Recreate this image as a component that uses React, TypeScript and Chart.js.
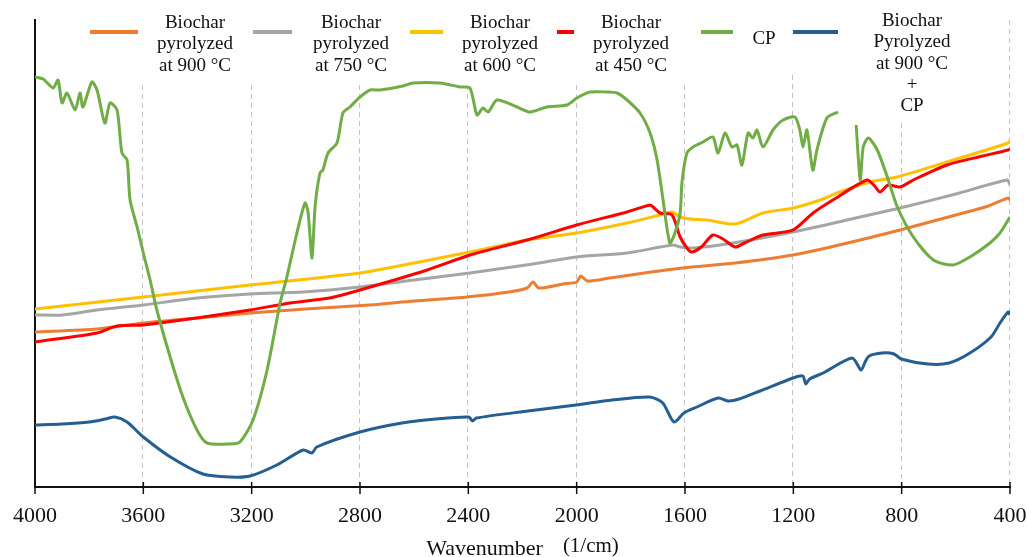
import React, { useEffect, useRef } from "react";
import { Chart, registerables } from "chart.js";

Chart.register(...registerables);

// ---------- data (transmittance, arbitrary units) ----------
const wnTicks = [4000, 3600, 3200, 2800, 2400, 2000, 1600, 1200, 800, 400];

const b900Wn = [4000, 3771, 3600, 3400, 3206, 3000, 2763, 2600, 2405, 2250, 2183, 2161, 2140, 2050, 2000, 1985, 1960, 1877, 1750, 1607, 1415, 1201, 1000, 806, 600, 480, 407, 400];
const b900T = [155, 158, 164, 169, 174, 178, 182, 186, 190, 195, 199, 205, 199, 203, 205, 211, 206, 209, 214, 219, 224, 232, 244, 257, 272, 281, 289, 287];

const b750Wn = [4000, 3897, 3771, 3600, 3402, 3206, 3010, 2800, 2600, 2394, 2161, 2000, 1814, 1644, 1618, 1570, 1423, 1201, 1002, 806, 600, 410, 400];
const b750T = [172, 172, 177, 182, 189, 193, 195, 200, 207, 214, 223, 230, 234, 242, 240, 239, 244, 255, 267, 279, 293, 307, 302];

const b600Wn = [4000, 3600, 3206, 2800, 2600, 2394, 2183, 2000, 1814, 1692, 1648, 1618, 1582, 1519, 1415, 1312, 1201, 1100, 1028, 917, 818, 633, 500, 407, 400];
const b600T = [178, 190, 202, 214, 224, 235, 247, 254, 264, 272, 275, 270, 268, 267, 263, 274, 279, 287, 295, 305, 310, 325, 336, 344, 346];

const b450Wn = [4000, 3771, 3697, 3600, 3402, 3206, 3058, 2912, 2800, 2552, 2394, 2183, 2000, 1814, 1729, 1718, 1692, 1648, 1618, 1590, 1574, 1540, 1497, 1460, 1415, 1380, 1312, 1201, 1127, 1054, 928, 900, 880, 850, 806, 757, 633, 500, 407, 400];
const b450T = [145, 154, 161, 162, 169, 177, 184, 189, 197, 217, 232, 247, 262, 275, 282, 280, 274, 272, 250, 238, 235, 240, 252, 248, 240, 244, 252, 257, 274, 287, 307, 301, 295, 302, 300, 307, 322, 331, 337, 338];

const cpWn = [4000, 3970, 3933, 3915, 3900, 3882, 3852, 3834, 3823, 3790, 3771, 3742, 3723, 3697, 3679, 3660, 3649, 3623, 3600, 3575, 3550, 3501, 3454, 3402, 3365, 3280, 3243, 3195, 3143, 3095, 3070, 3033, 3003, 2992, 2977, 2966, 2948, 2937, 2918, 2885, 2863, 2837, 2800, 2763, 2726, 2641, 2604, 2505, 2430, 2394, 2368, 2346, 2327, 2294, 2220, 2172, 2110, 2036, 1999, 1951, 1888, 1851, 1814, 1766, 1729, 1703, 1681, 1656, 1637, 1618, 1611, 1593, 1570, 1533, 1497, 1478, 1452, 1427, 1408, 1390, 1367, 1349, 1334, 1312, 1275, 1238, 1194, 1176, 1164, 1150, 1128, 1113, 1076, 1035, 1000, 968, 953, 942, 923, 890, 853, 816, 757, 683, 610, 548, 474, 437, 407, 400];
const cpT: (number | null)[] = [410, 408, 399, 407, 384, 394, 377, 394, 380, 405, 397, 364, 384, 377, 334, 327, 287, 260, 234, 207, 177, 130, 90, 57, 44, 43, 45, 67, 117, 184, 210, 254, 284, 275, 229, 280, 314, 317, 334, 344, 374, 380, 390, 397, 397, 401, 404, 404, 400, 399, 372, 379, 375, 387, 380, 375, 380, 382, 389, 395, 395, 394, 387, 374, 354, 327, 287, 244, 254, 274, 305, 334, 340, 345, 350, 334, 354, 340, 342, 322, 354, 349, 357, 340, 357, 367, 370, 357, 340, 357, 317, 337, 369, 375, null, 362, 307, 340, 349, 337, 310, 280, 250, 227, 222, 230, 244, 254, 267, 270];

const mixWn = [4000, 3900, 3800, 3740, 3705, 3660, 3600, 3500, 3380, 3280, 3206, 3107, 3010, 2977, 2960, 2800, 2645, 2520, 2398, 2385, 2370, 2180, 2002, 1870, 1730, 1682, 1641, 1604, 1556, 1478, 1440, 1400, 1323, 1201, 1165, 1154, 1140, 1090, 983, 950, 935, 920, 872, 828, 802, 703, 625, 548, 470, 437, 407, 400];
const mixT = [62, 63, 65, 68, 70, 65, 50, 30, 13, 10, 11, 22, 37, 34, 40, 55, 64, 68, 70, 66, 69, 76, 82, 87, 90, 84, 65, 74, 80, 89, 86, 88, 96, 109, 111, 103, 108, 114, 129, 117, 125, 131, 134, 133, 128, 123, 124, 134, 150, 164, 175, 172];

const seriesLabels = [
  ["Biochar", "pyrolyzed", "at 900 °C"],
  ["Biochar", "pyrolyzed", "at 750 °C"],
  ["Biochar", "pyrolyzed", "at 600 °C"],
  ["Biochar", "pyrolyzed", "at 450 °C"],
  ["CP"],
  ["Biochar", "Pyrolyzed", "at 900 °C", "+", "CP"],
];
const seriesColors = ["#ED7D31", "#A5A5A5", "#FFC000", "#FF0000", "#70AD47", "#255E91"];

const axisTitle = "Wavenumber";
const axisUnit = "(1/cm)";

// ---------- layout of the hand-drawn legend ----------
const legendLayout = [
  { s0: 90, s1: 138, tx: 195, ty: 23, clear: [85, 253, 85] },
  { s0: 253, s1: 292, tx: 351, ty: 23, clear: [253, 410, 85] },
  { s0: 410, s1: 443, tx: 500, ty: 23, clear: [410, 557, 85] },
  { s0: 557, s1: 574, tx: 631, ty: 23, clear: [557, 697, 85] },
  { s0: 701, s1: 733, tx: 764, ty: 39, clear: [697, 794, 75] },
  { s0: 793, s1: 838, tx: 912, ty: 21, clear: [794, 975, 123] },
];
const SERIF = "'Liberation Serif', 'Times New Roman', Times, serif";

const pts = (wn: number[], t: (number | null)[]) => wn.map((x, i) => ({ x, y: t[i] }));

const decorPlugin = {
  id: "decor",
  beforeDatasetsDraw(chart: any) {
    const { ctx, chartArea, scales } = chart;
    const xs = scales.x;
    ctx.save();
    ctx.strokeStyle = "#c4c4c4";
    ctx.lineWidth = 1;
    ctx.setLineDash([5, 4]);
    wnTicks.forEach((v) => {
      if (v === 4000) return;
      const px = Math.round(xs.getPixelForValue(v)) - 0.5;
      let top = chartArea.top;
      legendLayout.forEach((l) => {
        if (px >= l.clear[0] && px < l.clear[1]) top = l.clear[2];
      });
      ctx.beginPath();
      ctx.moveTo(px, top);
      ctx.lineTo(px, chartArea.bottom);
      ctx.stroke();
    });
    ctx.restore();
  },
  afterDraw(chart: any) {
    const { ctx, chartArea, scales } = chart;
    const xs = scales.x;
    ctx.save();
    // tick marks crossing the axis
    ctx.strokeStyle = "#111";
    ctx.lineWidth = 1.5;
    wnTicks.forEach((v) => {
      const px = xs.getPixelForValue(v);
      ctx.beginPath();
      ctx.moveTo(px, chartArea.bottom - 5);
      ctx.lineTo(px, chartArea.bottom + 7);
      ctx.stroke();
    });
    // legend
    ctx.textAlign = "center";
    ctx.textBaseline = "middle";
    ctx.fillStyle = "#111";
    ctx.font = `19px ${SERIF}`;
    legendLayout.forEach((l, i) => {
      ctx.strokeStyle = seriesColors[i];
      ctx.lineWidth = 4;
      ctx.beginPath();
      ctx.moveTo(l.s0, 32);
      ctx.lineTo(l.s1, 32);
      ctx.stroke();
      seriesLabels[i].forEach((line, j) => {
        ctx.fillText(line, l.tx, l.ty + j * 21.3);
      });
    });
    // axis title
    ctx.textAlign = "left";
    ctx.textBaseline = "alphabetic";
    ctx.font = `22px ${SERIF}`;
    const w1 = ctx.measureText(axisTitle).width;
    ctx.font = `21px ${SERIF}`;
    const w2 = ctx.measureText(axisUnit).width;
    const gap = 20;
    const cx = (chartArea.left + chartArea.right) / 2;
    const start = cx - (w1 + gap + w2) / 2;
    ctx.font = `22px ${SERIF}`;
    ctx.fillText(axisTitle, start, 555);
    ctx.font = `21px ${SERIF}`;
    ctx.fillText(axisUnit, start + w1 + gap, 552);
    ctx.restore();
  },
};

export default function App() {
  const ref = useRef<HTMLCanvasElement | null>(null);

  useEffect(() => {
    if (!ref.current) return;
    const mk = (wn: number[], t: (number | null)[], i: number, order: number) => ({
      label: seriesLabels[i].join(" "),
      data: pts(wn, t),
      borderColor: seriesColors[i],
      backgroundColor: seriesColors[i],
      borderWidth: 3,
      pointRadius: 0,
      tension: 0.25,
      spanGaps: false,
      fill: false,
      order,
    });
    const chart = new Chart(ref.current, {
      type: "line",
      data: {
        datasets: [
          mk(b900Wn, b900T, 0, 4),
          mk(b750Wn, b750T, 1, 3),
          mk(b600Wn, b600T, 2, 2),
          mk(b450Wn, b450T, 3, 1),
          mk(cpWn, cpT, 4, 0),
          mk(mixWn, mixT, 5, 5),
        ],
      },
      options: {
        animation: false,
        responsive: false,
        devicePixelRatio: 1,
        layout: { padding: { top: 20, right: 17, left: 0, bottom: 0 } },
        plugins: { legend: { display: false }, tooltip: { enabled: false }, title: { display: false } },
        scales: {
          x: {
            type: "linear",
            reverse: true,
            min: 400,
            max: 4000,
            afterFit: (s: any) => {
              s.height = 70;
              s.paddingLeft = 0;
              s.paddingRight = 0;
            },
            ticks: {
              stepSize: 400,
              autoSkip: false,
              maxRotation: 0,
              padding: 16,
              color: "#111",
              font: { family: SERIF, size: 22 },
              callback: (v: any) => String(v),
            },
            grid: { display: false, drawTicks: false },
            border: { display: true, color: "#111", width: 2 },
          },
          y: {
            type: "linear",
            min: 0,
            max: 467,
            afterFit: (s: any) => {
              s.width = 35;
            },
            ticks: { display: false },
            grid: { display: false, drawTicks: false },
            border: { display: true, color: "#111", width: 2 },
          },
        },
      },
      plugins: [decorPlugin],
    } as any);
    return () => chart.destroy();
  }, []);

  return (
    <div style={{ position: "absolute", left: 0, top: 0, width: 1027, height: 557, background: "#fff" }}>
      <canvas ref={ref} width={1027} height={557} style={{ display: "block" }} />
    </div>
  );
}
